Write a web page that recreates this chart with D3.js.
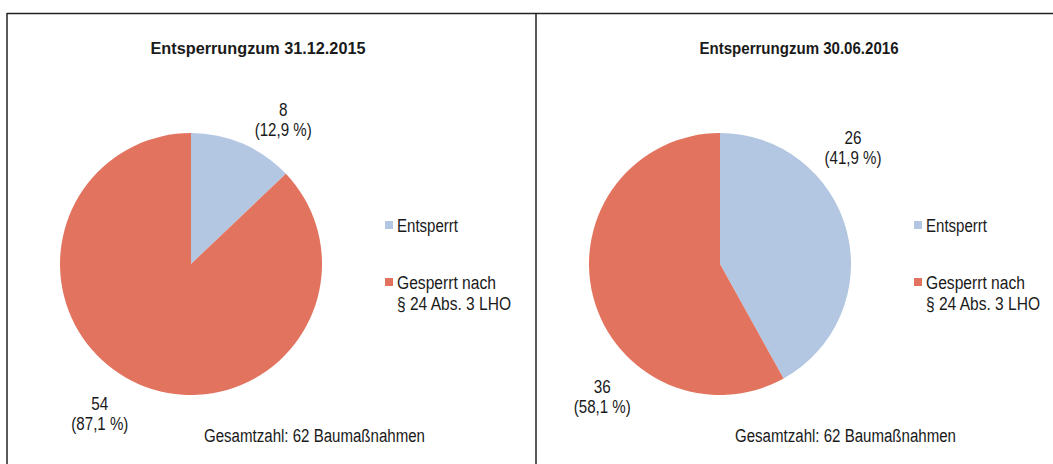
<!DOCTYPE html>
<html>
<head>
<meta charset="utf-8">
<script src="https://cdn.jsdelivr.net/npm/d3@7"></script>
<style>
  body { margin: 0; background: #fff; }
  svg text { font-family: "Liberation Sans", Arial, sans-serif; fill: #1a1a1a; }
</style>
</head>
<body>
<div id="chart"></div>
<script>
const categories = ["Entsperrt", "Gesperrt nach § 24 Abs. 3 LHO"];
const legendLines = [["Entsperrt"], ["Gesperrt nach", "§ 24 Abs. 3 LHO"]];
const titles = ["Entsperrungzum 31.12.2015", "Entsperrungzum 30.06.2016"];
const values2015 = [8, 54];
const values2016 = [26, 36];
const totalLabel = "Gesamtzahl: 62 Baumaßnahmen";

const width = 1053, height = 464;
const colors = d3.scaleOrdinal().domain(categories).range(["#b3c7e3", "#e2745f"]);

// panel layout; label anchors in polar form: degrees from 12 o'clock, distance from centre
const panels = [
    { x0: 7, cx: 191, titleX: 258, titleW: 215, legendX: 385, totalX: 204,
      title: titles[0], values: values2015, labelPolar: [[32, 174], [212, 172]] },
    { x0: 536, cx: 720, titleX: 799, titleW: 199, legendX: 914, totalX: 735,
      title: titles[1], values: values2016, labelPolar: [[48, 179], [222.3, 175]] }
];
const cy = 264, r = 131;

const svg = d3.select("#chart").append("svg")
    .attr("width", width)
    .attr("height", height);

// frame lines
svg.append("line").attr("x1", 7).attr("x2", width).attr("y1", 13.5).attr("y2", 13.5)
    .attr("stroke", "#222").attr("stroke-width", 1.5);
panels.forEach(p => {
    svg.append("line").attr("x1", p.x0).attr("x2", p.x0).attr("y1", 13).attr("y2", height)
        .attr("stroke", "#222").attr("stroke-width", 1.5);
});

const pie = d3.pie().sort(null).value(d => d);
const arc = d3.arc().innerRadius(0).outerRadius(r);
const fmt = v => d3.format(".1f")(v).replace(".", ",");
const legendW = { "Entsperrt": 61, "Gesperrt nach": 99, "§ 24 Abs. 3 LHO": 114 };

panels.forEach(p => {
    const total = d3.sum(p.values);
    const g = svg.append("g");

    g.append("text")
        .attr("x", p.titleX)
        .attr("y", 54)
        .attr("text-anchor", "middle")
        .style("font-size", "16px")
        .style("font-weight", "bold")
        .attr("textLength", p.titleW)
        .attr("lengthAdjust", "spacingAndGlyphs")
        .text(p.title);

    g.append("g")
        .attr("transform", `translate(${p.cx},${cy})`)
        .selectAll("path")
        .data(pie(p.values))
        .join("path")
        .attr("d", arc)
        .attr("fill", (d, i) => colors(categories[i]));

    // data labels
    pie(p.values).forEach((d, i) => {
        const [deg, dist] = p.labelPolar[i];
        const a = deg * Math.PI / 180;
        const lx = p.cx + Math.sin(a) * dist;
        const ly = cy - Math.cos(a) * dist;
        const num = String(d.data);
        g.append("text")
            .attr("x", lx).attr("y", ly)
            .attr("text-anchor", "middle")
            .style("font-size", "18px")
            .attr("textLength", num.length * 8.5)
            .attr("lengthAdjust", "spacingAndGlyphs")
            .text(num);
        g.append("text")
            .attr("x", lx).attr("y", ly + 20)
            .attr("text-anchor", "middle")
            .style("font-size", "18px")
            .attr("textLength", 57)
            .attr("lengthAdjust", "spacingAndGlyphs")
            .text(`(${fmt(d.data / total * 100)} %)`);
    });

    // legend
    const rowsY = [225, 282];
    categories.forEach((c, i) => {
        g.append("rect")
            .attr("x", p.legendX).attr("y", rowsY[i] - 4)
            .attr("width", 8).attr("height", 8)
            .attr("fill", colors(c));
        legendLines[i].forEach((line, j) => {
            g.append("text")
                .attr("x", p.legendX + 12)
                .attr("y", rowsY[i] + 6.5 + j * 21)
                .style("font-size", "18px")
                .attr("textLength", legendW[line])
                .attr("lengthAdjust", "spacingAndGlyphs")
                .text(line);
        });
    });

    g.append("text")
        .attr("x", p.totalX)
        .attr("y", 441.5)
        .style("font-size", "18px")
        .attr("textLength", 221)
        .attr("lengthAdjust", "spacingAndGlyphs")
        .text(totalLabel);
});
</script>
</body>
</html>
